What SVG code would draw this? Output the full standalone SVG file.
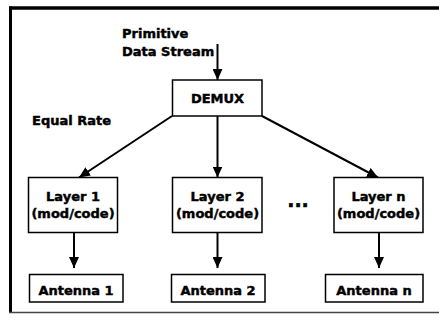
<svg xmlns="http://www.w3.org/2000/svg" width="439" height="322" viewBox="0 0 439 322">
<defs>
<style>
.box{fill:#fff;stroke:#000;stroke-width:1.5}
.t{font-family:"DejaVu Sans",Verdana,sans-serif;font-weight:bold;font-size:13px;fill:#000;stroke:#000;stroke-width:0.45}
.c{text-anchor:middle}
.ln{stroke:#000;stroke-width:2;fill:none}
</style>
<marker id="ah" markerUnits="userSpaceOnUse" markerWidth="12" markerHeight="10" refX="11" refY="5" orient="auto">
<path d="M0,0 L11,5 L0,10 z" fill="#000"/>
</marker>
</defs>
<rect width="439" height="322" fill="#fff"/>
<g id="frame">
<line x1="9" y1="8" x2="439" y2="8" stroke="#000" stroke-width="3.5"/>
<line x1="10.5" y1="6.5" x2="10.5" y2="313" stroke="#000" stroke-width="3"/>
<line x1="9" y1="312.5" x2="439" y2="312.5" stroke="#444" stroke-width="1.5"/>
</g>
<g id="labels">
<text class="t" x="122" y="37.5">Primitive</text>
<text class="t" x="122" y="56">Data Stream</text>
<text class="t" x="32" y="125">Equal Rate</text>
<text class="t c" x="298" y="207" style="font-size:19px">...</text>
</g>
<g id="connectors">
<line class="ln" x1="217.5" y1="44" x2="217.5" y2="80" marker-end="url(#ah)"/>
<line class="ln" x1="172" y1="116" x2="79" y2="177.5" marker-end="url(#ah)"/>
<line class="ln" x1="217.5" y1="116" x2="217.5" y2="177.5" marker-end="url(#ah)"/>
<line class="ln" x1="262" y1="116" x2="378" y2="177.5" marker-end="url(#ah)"/>
<line class="ln" x1="74" y1="232" x2="74" y2="268" marker-end="url(#ah)"/>
<line class="ln" x1="217.5" y1="232" x2="217.5" y2="268" marker-end="url(#ah)"/>
<line class="ln" x1="379" y1="232" x2="379" y2="268" marker-end="url(#ah)"/>
</g>
<g id="demux">
<rect class="box" x="172.5" y="80" width="89.5" height="36"/>
<text class="t c" x="217.5" y="103">DEMUX</text>
</g>
<g id="layer1">
<rect class="box" x="28.5" y="177.5" width="89" height="55"/>
<text class="t c" x="73" y="201">Layer 1</text>
<text class="t c" x="73" y="218">(mod/code)</text>
</g>
<g id="layer2">
<rect class="box" x="172.5" y="177.5" width="89.5" height="55"/>
<text class="t c" x="217.5" y="201">Layer 2</text>
<text class="t c" x="217.5" y="218">(mod/code)</text>
</g>
<g id="layern">
<rect class="box" x="334" y="177.5" width="89" height="55"/>
<text class="t c" x="378.5" y="201">Layer n</text>
<text class="t c" x="378.5" y="218">(mod/code)</text>
</g>
<g id="antenna1">
<rect class="box" x="29.5" y="274.5" width="93.5" height="27.5"/>
<text class="t c" x="76" y="295">Antenna 1</text>
</g>
<g id="antenna2">
<rect class="box" x="171.5" y="274.5" width="93.5" height="27.5"/>
<text class="t c" x="218" y="295">Antenna 2</text>
</g>
<g id="antennan">
<rect class="box" x="325.5" y="274.5" width="97.5" height="27.5"/>
<text class="t c" x="374" y="295">Antenna n</text>
</g>
</svg>
